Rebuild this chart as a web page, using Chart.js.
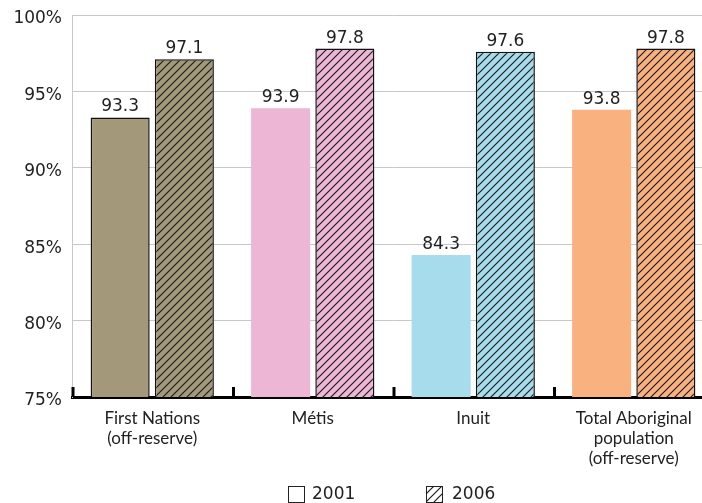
<!DOCTYPE html>
<html>
<head>
<meta charset="utf-8">
<script src="https://cdn.jsdelivr.net/npm/chart.js@4/dist/chart.umd.min.js"></script>
<style>
  html, body { margin: 0; padding: 0; background: #fff; overflow: hidden; }
  #wrap { width: 716px; height: 503px; position: relative; }
</style>
</head>
<body>
<div id="wrap"><canvas id="chart"></canvas></div>
<script>
// Categories (multi-line labels) and the two survey years
const categories = [
  ['First Nations', '(off-reserve)'],
  ['Métis'],
  ['Inuit'],
  ['Total Aboriginal', 'population', '(off-reserve)']
];
const years = ['2001', '2006'];
const values2001 = [93.3, 93.9, 84.3, 93.8];
const values2006 = [97.1, 97.8, 97.6, 97.8];
const yTickValues = [75, 80, 85, 90, 95, 100];

// One colour per group; 2006 bars use the same colour with a diagonal hatch
const groupColors = ['#a3997a', '#ecb6d4', '#a7dcec', '#f9b17f'];

const NUM_FONT = '"DejaVu Sans", Verdana, sans-serif';
const CAT_FONT = 'Lato, "Open Sans", sans-serif';

function makeHatch(bg) {
  const size = 8;
  const c = document.createElement('canvas');
  c.width = size; c.height = size;
  const g = c.getContext('2d');
  g.fillStyle = bg;
  g.fillRect(0, 0, size, size);
  g.strokeStyle = '#1e1e1e';
  g.lineWidth = 1.2;
  g.beginPath();
  g.moveTo(-1, size + 1); g.lineTo(size + 1, -1);
  g.moveTo(-1, 1); g.lineTo(1, -1);
  g.moveTo(size - 1, size + 1); g.lineTo(size + 1, size - 1);
  g.stroke();
  return g.createPattern(c, 'repeat');
}

// Value labels above each bar
const valueLabels = {
  id: 'valueLabels',
  afterDatasetsDraw(chart) {
    const ctx = chart.ctx;
    ctx.save();
    ctx.font = '17px ' + NUM_FONT;
    ctx.fillStyle = '#222';
    ctx.textAlign = 'center';
    ctx.textBaseline = 'bottom';
    chart.data.datasets.forEach((ds, di) => {
      chart.getDatasetMeta(di).data.forEach((bar, i) => {
        ctx.fillText(ds.data[i].toFixed(1), bar.x, bar.y - 2);
      });
    });
    ctx.restore();
  }
};

// Short upward tick marks on the baseline at category boundaries
const boundaryTicks = {
  id: 'boundaryTicks',
  afterDraw(chart) {
    const x = chart.scales.x;
    const ctx = chart.ctx;
    const n = categories.length;
    const step = n > 1 ? x.getPixelForValue(1) - x.getPixelForValue(0) : x.width;
    const base = chart.scales.y.getPixelForValue(75);
    ctx.save();
    ctx.strokeStyle = '#000';
    ctx.lineWidth = 3;
    ctx.beginPath();
    for (let i = 0; i <= n; i++) {
      const bx = x.getPixelForValue(0) - step / 2 + i * step + 1;
      ctx.moveTo(bx, base);
      ctx.lineTo(bx, base - 10);
    }
    ctx.stroke();
    ctx.restore();
  }
};

// Legend below the category labels
const bottomLegend = {
  id: 'bottomLegend',
  afterDraw(chart) {
    const ctx = chart.ctx;
    const a = chart.chartArea;
    const cx = (a.left + a.right) / 2;
    const y = 486, s = 16;
    const items = [
      { x: cx - 105, fill: '#ffffff', label: years[0], tx: cx - 81 },
      { x: cx + 33, fill: makeHatch('#ffffff'), label: years[1], tx: cx + 59 }
    ];
    ctx.save();
    items.forEach(it => {
      ctx.fillStyle = it.fill;
      ctx.fillRect(it.x, y, s, s);
      ctx.strokeStyle = '#222';
      ctx.lineWidth = 1;
      ctx.strokeRect(it.x + 0.5, y + 0.5, s, s);
      ctx.fillStyle = '#222';
      ctx.font = '17px ' + NUM_FONT;
      ctx.textAlign = 'left';
      ctx.textBaseline = 'middle';
      ctx.fillText(it.label, it.tx, y + s / 2 + 1);
    });
    ctx.restore();
  }
};

new Chart(document.getElementById('chart'), {
  type: 'bar',
  data: {
    labels: categories,
    datasets: [
      {
        label: years[0],
        data: values2001,
        backgroundColor: groupColors,
        borderColor: '#111',
        borderWidth: [1.5, 0, 0, 0],
        borderSkipped: false,
        categoryPercentage: 0.8,
        barPercentage: 0.92
      },
      {
        label: years[1],
        data: values2006,
        backgroundColor: groupColors.map(makeHatch),
        borderColor: '#111',
        borderWidth: 1.5,
        borderSkipped: false,
        categoryPercentage: 0.8,
        barPercentage: 0.92
      }
    ]
  },
  options: {
    responsive: true,
    maintainAspectRatio: false,
    animation: false,
    layout: { padding: { top: 15, right: 2, left: 0, bottom: 0 } },
    plugins: {
      legend: { display: false },
      tooltip: { enabled: false }
    },
    scales: {
      x: {
        grid: { display: false, drawTicks: false },
        border: { color: '#000', width: 3 },
        ticks: {
          padding: 11,
          color: '#222',
          font: { family: CAT_FONT, size: 17, lineHeight: 1.2 },
          maxRotation: 0,
          autoSkip: false
        },
        afterFit(scale) {
          scale.height = 106;
          scale.paddingLeft = 0;
          scale.paddingRight = 0;
        }
      },
      y: {
        min: 75,
        max: 100,
        afterBuildTicks(scale) { scale.ticks = yTickValues.map(v => ({ value: v })); },
        grid: { color: '#c8c8c8', lineWidth: 1, drawTicks: false },
        border: { color: '#c8c8c8', width: 1 },
        ticks: {
          padding: 10,
          labelOffset: 4,
          color: '#222',
          font: { family: NUM_FONT, size: 17 },
          callback: v => v + '%'
        },
        afterFit(scale) {
          scale.width = 72;
          scale.paddingTop = 0;
          scale.paddingBottom = 0;
        }
      }
    }
  },
  plugins: [valueLabels, boundaryTicks, bottomLegend]
});
</script>
</body>
</html>
